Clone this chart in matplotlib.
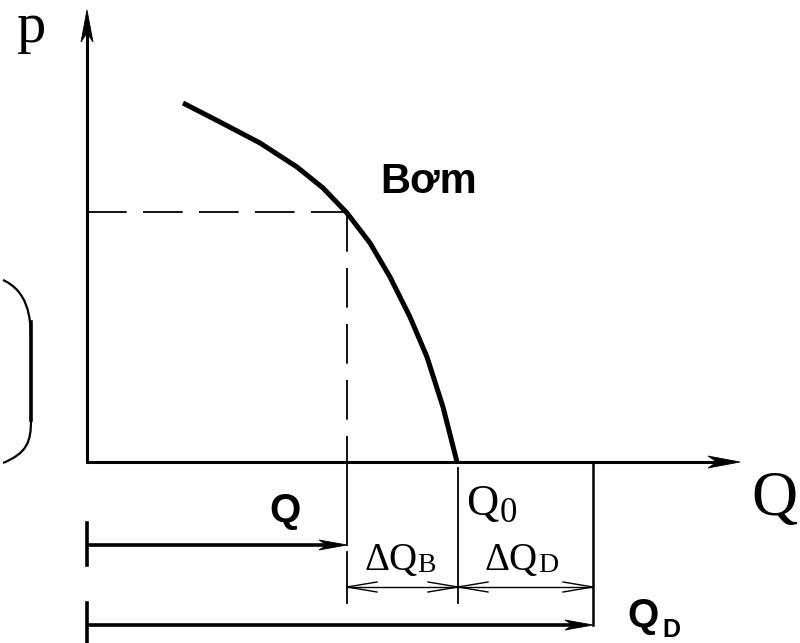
import matplotlib

matplotlib.use("Agg")
import matplotlib.pyplot as plt
from matplotlib.patches import PathPatch
from matplotlib.path import Path

# pump curve (pixel coords, y down)
curve_x = [183, 220, 260, 297, 323, 347, 370, 390, 410, 427, 443, 457]
curve_y = [103, 122, 143, 167, 188, 213, 243, 277, 317, 357, 407, 462]

origin = (87, 462)
q_work = 347      # operating flow
p_work = 212      # operating pressure
q_zero = 458      # Q0
q_d = 593         # QD

SERIF = "Liberation Serif"
SANS = "Liberation Sans"
INK = "black"

fig = plt.figure(figsize=(8.0, 6.43), dpi=100)
ax = fig.add_axes([0, 0, 1, 1])
ax.set_xlim(0, 800)
ax.set_ylim(643, 0)
ax.axis("off")


def arrow(p0, p1, lw=2.0, length=30, half=6, notch=8):
    """Line with a filled, notched arrowhead (coords are pixels)."""
    (x0, y0), (x1, y1) = p0, p1
    dx, dy = x1 - x0, y1 - y0
    d = (dx * dx + dy * dy) ** 0.5
    ux, uy = dx / d, dy / d
    nx, ny = -uy, ux
    bx, by = x1 - ux * length, y1 - uy * length
    ax.plot([x0, x1 - ux * length * 0.5], [y0, y1 - uy * length * 0.5],
            color=INK, lw=lw, solid_capstyle="butt")
    ax.fill(
        [x1, bx + nx * half, bx + ux * notch, bx - nx * half],
        [y1, by + ny * half, by + uy * notch, by - ny * half],
        color=INK, lw=0.6,
    )


# axes
arrow((origin[0], origin[1] + 1), (origin[0], 10), lw=2.2, length=32, half=6, notch=9)
arrow((origin[0] - 1, origin[1]), (740, origin[1]), lw=2.2, length=32, half=6, notch=9)

# pump curve
ax.plot(curve_x, curve_y, color=INK, linewidth=3.6, solid_capstyle="butt",
        solid_joinstyle="round")

# dashed operating point guides
ax.plot([origin[0], q_work], [p_work, p_work], color=INK, lw=1.3, dashes=(22, 9))
ax.plot([q_work, q_work], [p_work, origin[1]], color=INK, lw=1.3, dashes=(22, 9))

# extension lines
ax.plot([q_work, q_work], [origin[1], 545], color=INK, lw=1.3)
ax.plot([q_work, q_work], [552, 603], color=INK, lw=1.3)
ax.plot([q_zero, q_zero], [468, 603], color=INK, lw=1.3)
ax.plot([q_d, q_d], [origin[1], 625], color=INK, lw=1.8)

# Q and QD arrows with start ticks
ax.plot([origin[0], origin[0]], [523, 565], color=INK, lw=2.6)
arrow((origin[0], 545), (q_work, 545), lw=2.6, length=28, half=5, notch=8)
ax.plot([origin[0], origin[0]], [603, 643], color=INK, lw=2.6)
arrow((origin[0], 625), (q_d, 625), lw=2.6, length=28, half=5, notch=8)

# dimension line with open arrowheads
dim_y = 587
ax.plot([q_work, q_d], [dim_y, dim_y], color=INK, lw=1.0)
for x0, x1 in [(q_work, q_zero), (q_zero, q_d)]:
    for tip, back in [(x0, x0 + 30), (x1, x1 - 30)]:
        ax.plot([back, tip, back], [dim_y - 5, dim_y, dim_y + 5], color=INK, lw=1.0)

# left bracket
verts = [(3, 280), (27, 291), (31, 315), (31, 340),
         (31, 420), (31, 442), (27, 453), (3, 463)]
codes = [Path.MOVETO, Path.CURVE4, Path.CURVE4, Path.CURVE4,
         Path.LINETO, Path.CURVE4, Path.CURVE4, Path.CURVE4]
ax.add_patch(PathPatch(Path(verts, codes), facecolor="none", edgecolor=INK, lw=1.6))
ax.plot([31, 31], [322, 420], color=INK, lw=2.6)

# labels
ax.text(17, 42, "p", family=SERIF, fontsize=42, ha="left", va="baseline")
ax.text(751, 515, "Q", family=SERIF, fontsize=46, ha="left", va="baseline")
ax.text(380, 193, "Bơm", family=SANS, fontsize=30, fontweight="bold",
        ha="left", va="baseline")
ax.text(269, 522, "Q", family=SANS, fontsize=29, fontweight="bold",
        ha="left", va="baseline")
ax.text(627, 627, "Q", family=SANS, fontsize=29, fontweight="bold",
        ha="left", va="baseline")
ax.text(662, 637, "D", family=SANS, fontsize=18, fontweight="bold",
        ha="left", va="baseline")
ax.text(466, 515, "Q", family=SERIF, fontsize=32, ha="left", va="baseline")
ax.text(500, 522, "0", family=SERIF, fontsize=25, ha="left", va="baseline")
ax.text(364, 570, "ΔQ", family=SERIF, fontsize=28, ha="left", va="baseline")
ax.text(417, 572, "B", family=SERIF, fontsize=20, ha="left", va="baseline")
ax.text(485, 570, "ΔQ", family=SERIF, fontsize=28, ha="left", va="baseline")
ax.text(538, 572, "D", family=SERIF, fontsize=20, ha="left", va="baseline")

fig.savefig("out.png", dpi=100)
